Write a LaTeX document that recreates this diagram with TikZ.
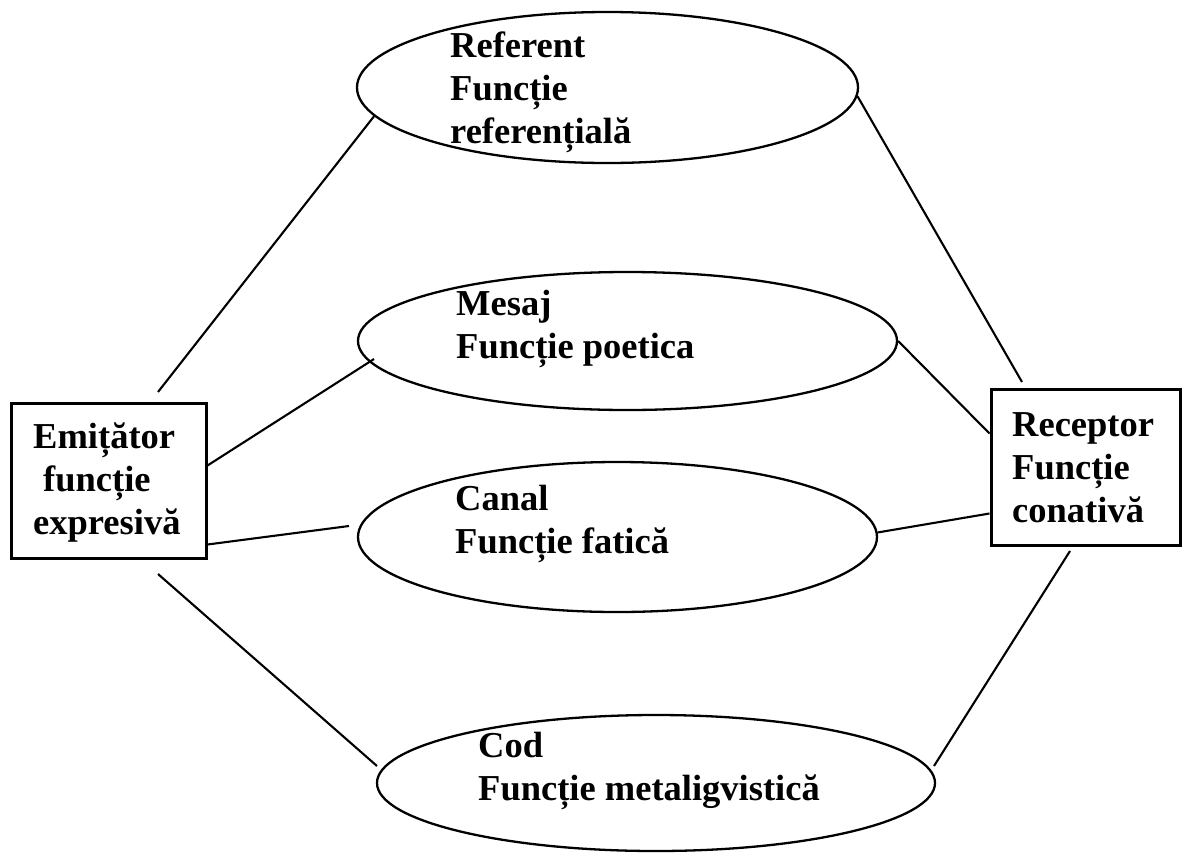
\documentclass[tikz,border=0pt]{standalone}
\usepackage{fontspec}
\setmainfont{Liberation Serif}
\usetikzlibrary{shapes.geometric,calc}
\tikzset{
  oval/.style={draw, ellipse, line width=2.3pt, inner sep=0pt},
  boxnode/.style={draw, rectangle, line width=3pt, inner sep=0pt},
  label/.style={anchor=base west, align=left, inner sep=0pt,
    font=\fontsize{36.5}{42.75}\selectfont\bfseries},
  link/.style={line width=2.1pt}
}
\begin{document}
\begin{tikzpicture}[x=1pt,y=-1pt]
\useasboundingbox (0,0) rectangle (1183,852);
% ellipses
\node[oval, minimum width=501pt, minimum height=151pt] (ref) at (607.5,87.5) {};
\node[oval, minimum width=539pt, minimum height=138pt] (mes) at (627.5,341) {};
\node[oval, minimum width=519pt, minimum height=150pt] (can) at (617.5,537) {};
\node[oval, minimum width=558pt, minimum height=136pt] (cod) at (656,783) {};
% boxes
\node[boxnode, minimum width=195pt, minimum height=155pt] (emi) at (108.5,480.5) {};
\node[boxnode, minimum width=189pt, minimum height=156pt] (rec) at (1085.5,467) {};
% texts (anchored at the baseline of the last line)
\node[label] (refT) at (450,143) {Referent\\Funcție\\referențială};
\node[label] (mesT) at (456,358) {Mesaj\\Funcție poetica};
\node[label] (canT) at (455,553) {Canal\\Funcție fatică};
\node[label] (codT) at (478,800) {Cod\\Funcție metaligvistică};
\node[label] (emiT) at (33,534) {Emițător\\\hspace*{10pt}funcție\\expresivă};
\node[label] (recT) at (1012,522) {Receptor\\Funcție\\conativă};
% free ends
\coordinate (e1) at (158,392);
\coordinate (m1) at (374,359);
\coordinate (c1) at (349,526);
\coordinate (e4) at (158,574);
\coordinate (d1) at (377,766);
\coordinate (r1) at (1022,382);
\coordinate (d2) at (934,766);
\coordinate (r4) at (1070,551);
% connectors
\draw[link] (e1) -- (ref.187);
\draw[link] ($(emi.north east)+(0,64)$) -- (m1);
\draw[link] ($(emi.south east)+(0,-15)$) -- (c1);
\draw[link] (e4) -- (d1);
\draw[link] (ref.-2.6) -- (r1);
\draw[link] (mes.east) -- ($(rec.north west)+(0,46)$);
\draw[link] (can.1.5) -- ($(rec.south west)+(0,-33)$);
\draw[link] (d2) -- (r4);
\end{tikzpicture}
\end{document}
